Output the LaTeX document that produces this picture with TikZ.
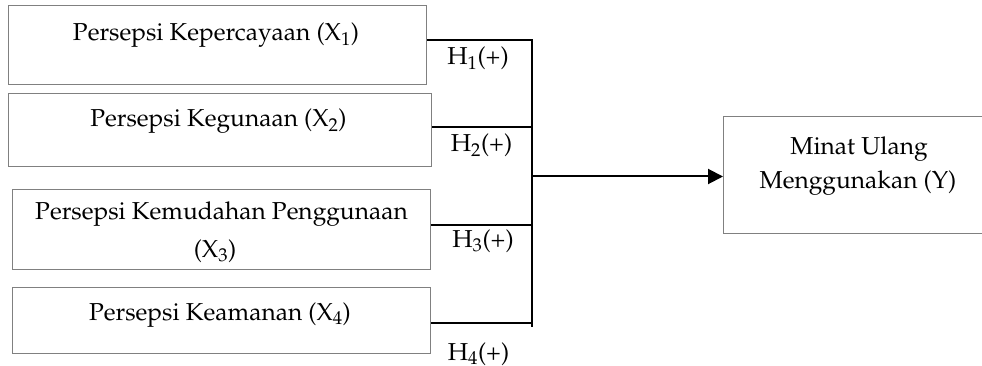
\documentclass[tikz,border=0pt]{standalone}
\usepackage[T1]{fontenc}
\usepackage{mathpazo}
\usetikzlibrary{arrows.meta}
\definecolor{boxgray}{HTML}{808080}
\begin{document}
\begin{tikzpicture}[x=1pt,y=-1pt,
  box/.style={draw=boxgray, line width=1pt, inner sep=0pt, anchor=north west},
  lbl/.style={anchor=base, inner sep=0pt, font=\fontsize{24.5}{29}\selectfont},
  conn/.style={line width=2pt, draw=black},
  thinconn/.style={line width=1.5pt, draw=black}]
\useasboundingbox (0,0) rectangle (982,366);
% boxes
\node[box, minimum width=418pt, minimum height=79pt] (b1) at (8,5) {};
\node[box, minimum width=423pt, minimum height=73pt] (b2) at (8,93) {};
\node[box, minimum width=418pt, minimum height=80pt] (b3) at (12,189) {};
\node[box, minimum width=418pt, minimum height=66pt] (b4) at (12,287) {};
\node[box, minimum width=267pt, minimum height=117pt] (by) at (723,116) {};
% box texts
\node[lbl] (t1) at (216,41) {Persepsi Kepercayaan (X\textsubscript{1})};
\node[lbl] (t2) at (218.5,127) {Persepsi Kegunaan (X\textsubscript{2})};
\node[lbl] (t3a) at (221.5,219) {Persepsi Kemudahan Penggunaan};
\node[lbl] (t3b) at (215,257) {(X\textsubscript{3})};
\node[lbl] (t4) at (220,320) {Persepsi Keamanan (X\textsubscript{4})};
\node[lbl] (ty1) at (859,155) {Minat Ulang};
\node[lbl] (ty2) at (858,189) {Menggunakan (Y)};
% junction points
\coordinate (j1) at (532,40);
\coordinate (j2) at (532,127);
\coordinate (j3) at (532,225);
\coordinate (j4) at (532,323);
\coordinate (jend) at (532,327);
\coordinate (jm) at (532,176.5);
% connectors
\draw[conn] (b1.east |- j1) -- (j1) -- (jend);
\draw[thinconn] (b2.east |- j2) -- (j2);
\draw[thinconn] (b3.east |- j3) -- (j3);
\draw[conn] (b4.east |- j4) -- (j4);
\draw[conn, -{Triangle[length=15pt,width=15pt]}] (jm) -- (jm -| by.west);
% hypothesis labels
\node[lbl] (h1) at (478,65) {H\textsubscript{1}(+)};
\node[lbl] (h2) at (481.5,152) {H\textsubscript{2}(+)};
\node[lbl] (h3) at (483,247) {H\textsubscript{3}(+)};
\node[lbl] (h4) at (478.5,360) {H\textsubscript{4}(+)};
\end{tikzpicture}
\end{document}
